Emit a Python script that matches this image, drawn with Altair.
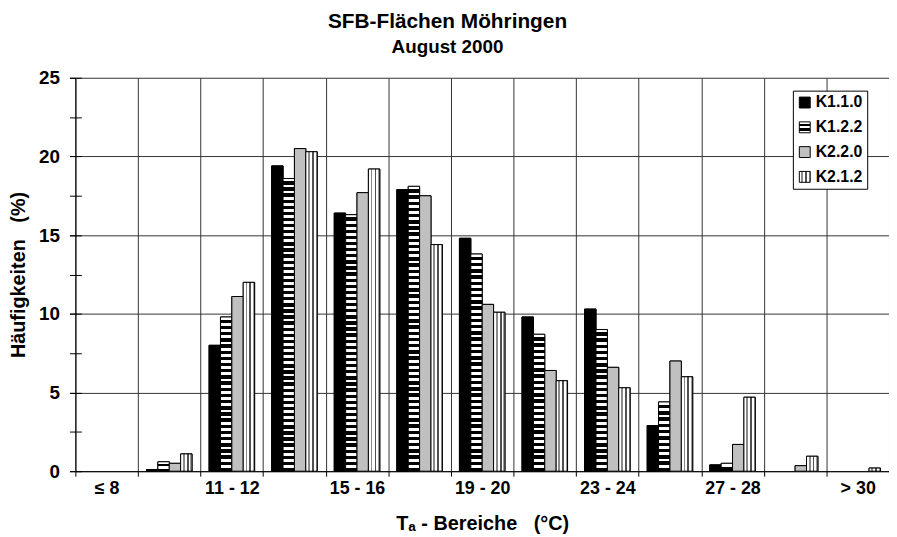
import json
import altair as alt

# ---------------- data ----------------
categories = ["≤ 8", "9 - 10", "11 - 12", "13 - 14", "15 - 16", "17 - 18", "19 - 20",
              "21 - 22", "23 - 24", "25 - 26", "27 - 28", "29 - 30", "> 30"]
series = ["K1.1.0", "K1.2.2", "K2.2.0", "K2.1.2"]
k110 = [0, 0.1, 8.0, 19.4, 16.4, 17.9, 14.8, 9.8, 10.3, 2.9, 0.4, 0, 0]
k122 = [0, 0.6, 9.8, 18.6, 16.3, 18.1, 13.8, 8.7, 9.0, 4.4, 0.5, 0, 0]
k220 = [0, 0.5, 11.1, 20.5, 17.7, 17.5, 10.6, 6.4, 6.6, 7.0, 1.7, 0.35, 0]
k212 = [0, 1.1, 12.0, 20.3, 19.2, 14.4, 10.1, 5.75, 5.3, 6.0, 4.7, 0.95, 0.2]
y_major = [0, 5, 10, 15, 20, 25]
y_minor = [0, 2.5, 5, 7.5, 10, 12.5, 15, 17.5, 20, 22.5, 25]

# ---------------- layout / style ----------------
W, H = 821, 397
PAD = {"left": 68, "top": 68, "right": 0, "bottom": 64}
FONT = "Liberation Sans"
PX_PER_UNIT = H / 25.0
STRIPE_PERIOD = 6.2


def hstripes(height_px, period=STRIPE_PERIOD, white=0.45):
    n = max(1, int(round(height_px / period)))
    stops = []
    for i in range(n):
        a, b, c = i / n, (i + white) / n, (i + 1) / n
        stops += [{"offset": a, "color": "white"}, {"offset": b, "color": "white"},
                  {"offset": b, "color": "black"}, {"offset": c, "color": "black"}]
    return {"gradient": "linear", "x1": 1, "y1": 0, "x2": 1, "y2": 1, "stops": stops}


def band(stops_spec):
    stops = []
    for a, b, col in stops_spec:
        stops += [{"offset": a, "color": col}, {"offset": b, "color": col}]
    return stops


vstripes = {"gradient": "linear", "x1": 0, "y1": 0, "x2": 1, "y2": 0,
            "stops": band([(0, 0.2, "white"), (0.2, 0.36, "#8a8a8a"), (0.36, 0.54, "white"),
                           (0.54, 0.7, "#505050"), (0.7, 0.86, "white"), (0.86, 1, "#9a9a9a")])}
legend_h = {"gradient": "linear", "x1": 1, "y1": 0, "x2": 1, "y2": 1,
            "stops": band([(0, 0.22, "white"), (0.22, 0.42, "black"), (0.42, 0.6, "white"),
                           (0.6, 0.8, "black"), (0.8, 1, "white")])}

values_by_series = {"K1.1.0": k110, "K1.2.2": k122, "K2.2.0": k220, "K2.1.2": k212}
records = []
for s in series:
    for c, v in zip(categories, values_by_series[s]):
        if s == "K1.1.0":
            paint = "black"
        elif s == "K1.2.2":
            paint = hstripes(v * PX_PER_UNIT)
        elif s == "K2.2.0":
            paint = "#c0c0c0"
        else:
            paint = vstripes
        records.append({"cat": c, "series": s, "value": v, "paint": paint})

data = alt.Data(values=records)

hidden = categories[1::2]
label_expr = "indexof(" + json.dumps(hidden) + ", datum.value) >= 0 ? '' : datum.label"

x_enc = alt.X(
    "cat:N", sort=categories,
    scale=alt.Scale(domain=categories, paddingInner=0, paddingOuter=0),
    axis=alt.Axis(
        title="Tₐ - Bereiche\u00a0\u00a0\u00a0(°C)", tickBand="extent", grid=True,
        gridColor="#333333", gridWidth=1, domainColor="black", tickColor="black",
        tickSize=5, labelAngle=0, labelExpr=label_expr, labelOverlap=False,
        labelFont=FONT, labelFontSize=18, labelFontWeight="bold", labelColor="black",
        labelPadding=4, titleFont=FONT, titleFontSize=20, titleFontWeight="bold",
        titleColor="black", titlePadding=16,
    ),
)
xoff_enc = alt.XOffset("series:N", sort=series,
                       scale=alt.Scale(domain=series, paddingInner=0, paddingOuter=0.75))

legend_range = ["black", {"expr": json.dumps(legend_h)}, "#c0c0c0", {"expr": json.dumps(vstripes)}]

base_bars = alt.Chart(data).transform_filter("datum.value > 0").mark_bar(
    stroke="black", strokeWidth=1).encode(
    x=x_enc,
    xOffset=xoff_enc,
    y=alt.Y("value:Q", stack=None, scale=alt.Scale(domain=[0, 25], nice=False),
            axis=alt.Axis(values=y_major, orient="left", title="Häufigkeiten\u00a0\u00a0\u00a0(%)",
                          grid=True, gridColor="#333333", gridWidth=1, domainColor="black",
                          tickColor="black", tickSize=6, labelPadding=10,
                          labelFont=FONT, labelFontSize=19, labelFontWeight="bold",
                          labelColor="black", titleFont=FONT, titleFontSize=20,
                          titleFontWeight="bold", titleColor="black", titlePadding=10)),
    fill=alt.Fill("series:N", sort=series,
                  scale=alt.Scale(domain=series, range=legend_range),
                  legend=alt.Legend(orient="none", legendX=724, legendY=13, title=None,
                                    symbolType="square", symbolSize=121,
                                    symbolStrokeColor="black", symbolStrokeWidth=1,
                                    labelFont=FONT, labelFontSize=16, labelFontWeight="bold",
                                    labelColor="black", strokeColor="black", fillColor="white",
                                    padding=4, rowPadding=9, labelOffset=3)),
)

pattern_bars = alt.Chart(data).transform_filter("datum.value > 0").mark_bar(
    stroke="black", strokeWidth=1).encode(
    x=x_enc,
    xOffset=xoff_enc,
    y=alt.Y("value:Q", stack=None,
            axis=alt.Axis(values=y_minor, orient="left", offset=-6, tickSize=12,
                          domain=False, labels=False, grid=False, title=None,
                          tickColor="black")),
    color=alt.Color("paint:N", scale=None),
)

chart = alt.layer(base_bars, pattern_bars).resolve_axis(y="independent").properties(
    width=W, height=H,
    autosize=alt.AutoSizeParams(type="none"),
    padding=PAD,
    title=alt.Title("SFB-Flächen Möhringen", subtitle="August 2000", font=FONT,
                    fontSize=21, fontWeight="bold", color="black",
                    subtitleFont=FONT, subtitleFontSize=19, subtitleFontWeight="bold",
                    subtitleColor="black", subtitlePadding=6, anchor="middle",
                    dx=-35, offset=12),
).configure_view(stroke=None)

chart.save("out.html", embed_options={"renderer": "svg", "actions": False})
